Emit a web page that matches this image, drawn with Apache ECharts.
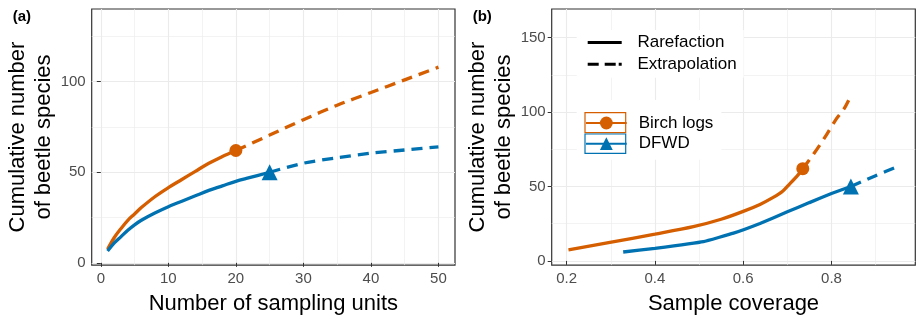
<!DOCTYPE html>
<html>
<head>
<meta charset="utf-8">
<script src="https://cdn.jsdelivr.net/npm/echarts@6/dist/echarts.min.js"></script>
<style>
html,body{margin:0;padding:0;background:#fff}
#chart{width:917px;height:322px}
</style>
</head>
<body>
<div id="chart"></div>
<script>
// (a) size-based curves: sampling units -> species
const birchRareM = [1, 2, 3, 4, 5, 6, 8, 10, 12, 14, 16, 18, 20];
const birchRareS = [7.5, 14, 19, 23.5, 27, 30.5, 36.5, 41.5, 46, 50.5, 55, 58.7, 62];
const birchExtM = [20, 25, 30, 35, 40, 45, 50];
const birchExtS = [62, 70.5, 79, 87, 94, 101, 108];
const dfwdRareM = [1, 2, 3, 4, 5, 6, 8, 10, 12, 14, 16, 18, 20, 22, 25];
const dfwdRareS = [6.5, 11, 14.5, 18, 21, 23.5, 27.5, 31, 34, 37, 40, 42.5, 45, 47, 50];
const dfwdExtM = [25, 30, 35, 40, 45, 50];
const dfwdExtS = [50, 55, 58, 60.5, 62.3, 64];

// (b) coverage-based curves: sample coverage -> species
const birchRareC = [0.204, 0.298, 0.4, 0.487, 0.55, 0.6, 0.638, 0.668, 0.69, 0.706, 0.722, 0.735];
const birchRareCS = [7.5, 12.5, 18, 23, 28, 33.3, 38, 42.7, 47, 52, 57, 62];
const birchExtC = [0.735, 0.76, 0.785, 0.81, 0.828, 0.839];
const birchExtCS = [62, 72, 83, 95, 102, 108];
const dfwdRareC = [0.328, 0.4, 0.51, 0.578, 0.638, 0.7, 0.75, 0.8, 0.844];
const dfwdRareCS = [6, 8.5, 13, 18.7, 25.2, 33, 39.2, 45.3, 50];
const dfwdExtC = [0.844, 0.9, 0.955];
const dfwdExtCS = [50, 57.3, 64];

const unitTicks = [0, 10, 20, 30, 40, 50];
const speciesTicksA = [0, 50, 100];
const coverageTicks = [0.2, 0.4, 0.6, 0.8];
const speciesTicksB = [0, 50, 100, 150];

const ORANGE = '#D55E00', BLUE = '#0072B2';
const FONT = '"Liberation Sans", Arial, sans-serif';

function zip(xs, ys) {
	return xs.map((x, i) => [x, ys[i]]);
}

function axis(gridIndex, min, max, splitNumber, ticks, name, nameGap, isY) {
	let a = {
		type: 'value',
		gridIndex: gridIndex,
		min: min,
		max: max,
		splitNumber: splitNumber,
		name: name,
		nameLocation: 'middle',
		nameGap: nameGap,
		nameTextStyle: {fontSize: 22, color: '#000', fontFamily: FONT, lineHeight: 26},
		axisLine: {show: false},
		axisTick: {show: true, length: 4, customValues: ticks, lineStyle: {color: '#333', width: 1}},
		axisLabel: {customValues: ticks, fontSize: 15, color: '#4D4D4D', margin: 6, fontFamily: FONT},
		splitLine: {show: true, lineStyle: {color: '#EBEBEB', width: 1.1}},
		minorTick: {show: false, splitNumber: 2},
		minorSplitLine: {show: true, lineStyle: {color: '#EBEBEB', width: 0.6}}
	};
	if (isY) a.nameRotate = 90;
	return a;
}

function rareSeries(name, idx, data, color, symbol, size, smooth) {
	let last = data.length - 1;
	return {
		name: name, type: 'line', xAxisIndex: idx, yAxisIndex: idx,
		data: data, z: 4,
		symbol: symbol,
		symbolSize: function (v, p) { return p.dataIndex === last ? size : 0; },
		itemStyle: {color: color, borderWidth: 0},
		lineStyle: {color: color, width: 3.3},
		smooth: smooth,
		animation: false
	};
}

function extSeries(name, idx, data, color) {
	return {
		name: name, type: 'line', xAxisIndex: idx, yAxisIndex: idx,
		data: data, z: 3, symbol: 'none',
		itemStyle: {color: color},
		lineStyle: {color: color, width: 3.3, type: [11, 7]},
		smooth: 0.3,
		animation: false
	};
}

let chart = echarts.init(document.getElementById('chart'));

let option = {
	animation: false,
	textStyle: {fontFamily: FONT},
	title: [
		{text: '(a)', left: 12.7, top: 9, padding: 0, textStyle: {fontSize: 15, fontWeight: 'bold', color: '#000', fontFamily: FONT}},
		{text: '(b)', left: 472.7, top: 9, padding: 0, textStyle: {fontSize: 15, fontWeight: 'bold', color: '#000', fontFamily: FONT}}
	],
	grid: [
		{left: 91.7, top: 9, width: 363.3, height: 262, show: true, borderColor: '#333', borderWidth: 1.2, backgroundColor: '#fff'},
		{left: 551.7, top: 9, width: 363.6, height: 262, show: true, borderColor: '#333', borderWidth: 1.2, backgroundColor: '#fff'}
	],
	xAxis: [
		axis(0, -1.35, 52.45, 5, unitTicks, 'Number of sampling units', 22, false),
		axis(1, 0.166, 0.99, 4, coverageTicks, 'Sample coverage', 22, false)
	],
	yAxis: [
		axis(0, -1.24, 140.1, 3, speciesTicksA, 'Cumulative number\nof beetle species', 35, true),
		axis(1, -2.8, 169.3, 3, speciesTicksB, 'Cumulative number\nof beetle species', 35, true)
	],
	legend: [
		{
			orient: 'vertical', left: 576.7, top: 30,
			data: [
				{name: 'Rarefaction', icon: 'path://M0,0h34v3h-34z'},
				{name: 'Extrapolation', icon: 'path://M0,0h11v3h-11z M17,0h11v3h-11z M31,0h3v3h-3z'}
			],
			itemWidth: 34, itemHeight: 3, itemGap: 4.7,
			backgroundColor: '#fff', padding: [4, 7, 5, 11],
			selectedMode: false,
			textStyle: {fontSize: 17, lineHeight: 17, color: '#000', fontFamily: FONT, padding: [0, 0, 0, 10.7]}
		},
		{
			orient: 'vertical', left: 576.7, top: 100,
			data: ['Birch logs', 'DFWD'],
			itemWidth: 40.7, itemHeight: 16, itemGap: 2.7,
			backgroundColor: '#fff', padding: [14, 8, 7, 8.3],
			selectedMode: false,
			textStyle: {fontSize: 17, lineHeight: 18, color: '#000', fontFamily: FONT, padding: [0, 0, 0, 7]}
		}
	],
	graphic: [
		{type: 'rect', z: 100, shape: {x: 585, y: 112.7, width: 40.7, height: 20}, style: {fill: 'none', stroke: ORANGE, lineWidth: 1.2}},
		{type: 'rect', z: 100, shape: {x: 585, y: 134, width: 40.7, height: 19.3}, style: {fill: 'none', stroke: BLUE, lineWidth: 1.2}}
	],
	series: [
		rareSeries('Birch logs', 0, zip(birchRareM, birchRareS), ORANGE, 'circle', 13, 0.35),
		extSeries('Birch logs extrapolated', 0, zip(birchExtM, birchExtS), ORANGE),
		rareSeries('DFWD', 0, zip(dfwdRareM, dfwdRareS), BLUE, 'triangle', 16, 0.35),
		extSeries('DFWD extrapolated', 0, zip(dfwdExtM, dfwdExtS), BLUE),
		rareSeries('Birch logs', 1, zip(birchRareC, birchRareCS), ORANGE, 'circle', 13, 0.3),
		extSeries('Birch logs extrapolated', 1, zip(birchExtC, birchExtCS), ORANGE),
		rareSeries('DFWD', 1, zip(dfwdRareC, dfwdRareCS), BLUE, 'triangle', 16, 0.1),
		extSeries('DFWD extrapolated', 1, zip(dfwdExtC, dfwdExtCS), BLUE),
		{name: 'Rarefaction', type: 'line', xAxisIndex: 1, yAxisIndex: 1, data: [], itemStyle: {color: '#000', borderWidth: 0}},
		{name: 'Extrapolation', type: 'line', xAxisIndex: 1, yAxisIndex: 1, data: [], itemStyle: {color: '#000', borderWidth: 0}}
	]
};

chart.setOption(option);
</script>
</body>
</html>
